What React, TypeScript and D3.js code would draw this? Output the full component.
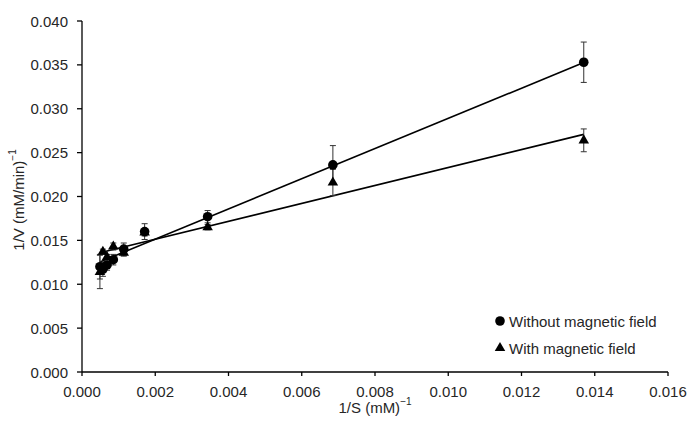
import React from "react";
import * as d3 from "d3";

const invS = [0.0137, 0.00685, 0.00343, 0.00171, 0.00114, 0.000855, 0.000684, 0.00057, 0.000489];
const withoutField = [0.0353, 0.0236, 0.0177, 0.0160, 0.0140, 0.0128, 0.0122, 0.0117, 0.0120];
const withoutErr = [0.0023, 0.0022, 0.0007, 0.0009, 0.0007, 0.0006, 0.0006, 0.0008, 0.0014];
const withField = [0.0264, 0.0216, 0.0165, 0.0159, 0.0136, 0.0143, 0.0131, 0.0137, 0.0114];
const withErr = [0.0013, 0.0015, 0.0003, 0.0004, 0.0004, 0.0004, 0.0003, 0.0003, 0.0019];
// trendline fit coefficients [slope, intercept]
const withoutFit = [1.72, 0.0117];
const withFit = [1.022, 0.01308];
const xTicks = [0, 0.002, 0.004, 0.006, 0.008, 0.01, 0.012, 0.014, 0.016];
const yTicks = [0, 0.005, 0.01, 0.015, 0.02, 0.025, 0.03, 0.035, 0.04];
const legendLabels = ["Without magnetic field", "With magnetic field"];

const W = 696, H = 430;
const left = 82, right = 668, top = 21, bottom = 372;
const font = "'Liberation Sans', Arial, sans-serif";
const txt = "#262626";

export default function App() {
  const x = d3.scaleLinear().domain([0, 0.016]).range([left, right]);
  const y = d3.scaleLinear().domain([0, 0.04]).range([bottom, top]);
  const xMin = d3.min(invS) as number;
  const xMax = d3.max(invS) as number;
  const line = d3.line<number>().x((d) => x(d[0])).y((d) => y(d[1]));
  const fitLine = (f: number[]) =>
    line([[xMin, f[0] * xMin + f[1]], [xMax, f[0] * xMax + f[1]]] as any);
  const tri = d3.symbol().type(d3.symbolTriangle).size(48)() as string;
  const cap = 3;

  const errBars = (vals: number[], errs: number[], key: string) =>
    invS.map((s, i) => {
      const cx = x(s);
      const y1 = y(vals[i] + errs[i]);
      const y2 = y(vals[i] - errs[i]);
      return (
        <g key={key + i} stroke="#333" strokeWidth={1}>
          <line x1={cx} x2={cx} y1={y1} y2={y2} />
          <line x1={cx - cap} x2={cx + cap} y1={y1} y2={y1} />
          <line x1={cx - cap} x2={cx + cap} y1={y2} y2={y2} />
        </g>
      );
    });

  return (
    <svg width={W} height={H} style={{ position: "absolute", left: 0, top: 0, background: "#fff" }}>
      <rect width={W} height={H} fill="#fff" />
      {/* axes */}
      <g stroke="#000" strokeWidth={1.3} fill="none">
        <line x1={left} x2={left} y1={top} y2={bottom} />
        <line x1={left} x2={right} y1={bottom} y2={bottom} />
        {yTicks.map((t) => (
          <line key={"yt" + t} x1={left - 5} x2={left} y1={y(t)} y2={y(t)} />
        ))}
        {xTicks.map((t) => (
          <line key={"xt" + t} x1={x(t)} x2={x(t)} y1={bottom} y2={bottom + 4} />
        ))}
      </g>
      <g fontFamily={font} fontSize={15} fill={txt}>
        {yTicks.map((t) => (
          <text key={"yl" + t} x={left - 14} y={y(t)} textAnchor="end" dominantBaseline="central">
            {d3.format(".3f")(t)}
          </text>
        ))}
        {xTicks.map((t) => (
          <text key={"xl" + t} x={x(t)} y={bottom + 19} textAnchor="middle" dominantBaseline="central">
            {d3.format(".3f")(t)}
          </text>
        ))}
        <text x={(left + right) / 2} y={407} textAnchor="middle" dominantBaseline="central">
          1/S (mM)<tspan dy={-6} fontSize={10}>−1</tspan>
        </text>
        <text
          transform={`translate(18,${200}) rotate(-90)`}
          textAnchor="middle"
          dominantBaseline="central"
        >
          1/V (mM/min)<tspan dy={-6} fontSize={10}>−1</tspan>
        </text>
      </g>
      {/* trendlines */}
      <path d={fitLine(withoutFit) as string} stroke="#000" strokeWidth={1.6} fill="none" />
      <path d={fitLine(withFit) as string} stroke="#000" strokeWidth={1.6} fill="none" />
      {/* error bars */}
      {errBars(withoutField, withoutErr, "we")}
      {errBars(withField, withErr, "me")}
      {/* markers */}
      {invS.map((s, i) => (
        <circle key={"c" + i} cx={x(s)} cy={y(withoutField[i])} r={4.8} fill="#000" />
      ))}
      {invS.map((s, i) => (
        <path key={"t" + i} d={tri} transform={`translate(${x(s)},${y(withField[i])})`} fill="#000" />
      ))}
      {/* legend */}
      <g fontFamily={font} fontSize={15} fill={txt}>
        <circle cx={500} cy={321} r={4.8} fill="#000" />
        <text x={509} y={321} dominantBaseline="central">{legendLabels[0]}</text>
        <path d={tri} transform={`translate(500,348)`} fill="#000" />
        <text x={509} y={348} dominantBaseline="central">{legendLabels[1]}</text>
      </g>
    </svg>
  );
}
